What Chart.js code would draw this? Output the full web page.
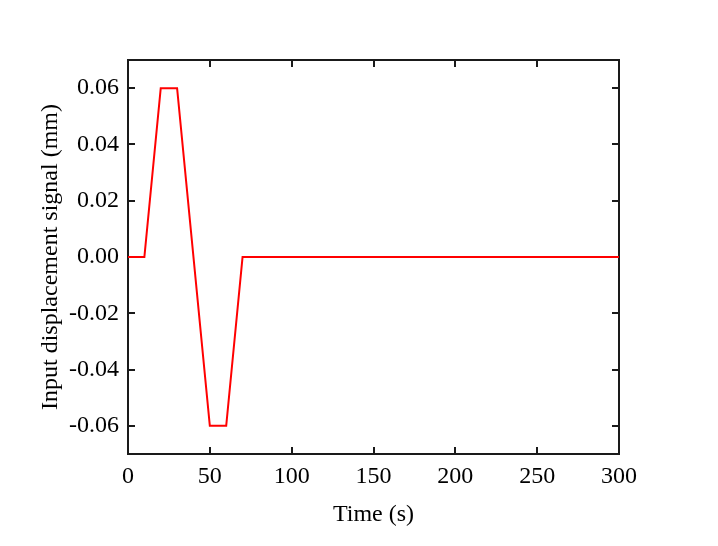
<!DOCTYPE html>
<html>
<head>
<meta charset="utf-8">
<script src="https://cdn.jsdelivr.net/npm/chart.js@4"></script>
<style>
  html, body { margin: 0; padding: 0; background: #fff; }
  #wrap { width: 718px; height: 546px; }
</style>
</head>
<body>
<div id="wrap"><canvas id="signalChart" width="718" height="546"></canvas></div>
<script>
// input displacement signal
const timeValues = [0, 10, 20, 30, 50, 60, 70, 300];
const displacementValues = [0, 0, 0.06, 0.06, -0.06, -0.06, 0, 0];
const xTickValues = [0, 50, 100, 150, 200, 250, 300];
const yTickValues = [-0.06, -0.04, -0.02, 0.00, 0.02, 0.04, 0.06];

const points = timeValues.map(function (t, i) { return { x: t, y: displacementValues[i] }; });

// box round the plot area, with inward ticks on all four sides (drawn under the line)
const frame = {
     id: 'frame',
     beforeDatasetsDraw: function (chart) {
          const ctx = chart.ctx;
          const a = chart.chartArea;
          const xs = chart.scales.x, ys = chart.scales.y;
          const len = 7;
          ctx.save();
          ctx.strokeStyle = '#1a1a1a';
          ctx.lineWidth = 2;
          ctx.strokeRect(a.left, a.top, a.right - a.left, a.bottom - a.top);
          ctx.beginPath();
          xTickValues.forEach(function (v) {
               const px = Math.round(xs.getPixelForValue(v));
               if (px <= a.left + 1 || px >= a.right - 1) return;
               ctx.moveTo(px, a.bottom); ctx.lineTo(px, a.bottom - len);
               ctx.moveTo(px, a.top); ctx.lineTo(px, a.top + len);
          });
          yTickValues.forEach(function (v) {
               const py = Math.round(ys.getPixelForValue(v));
               ctx.moveTo(a.left, py); ctx.lineTo(a.left + len, py);
               ctx.moveTo(a.right, py); ctx.lineTo(a.right - len, py);
          });
          ctx.stroke();
          ctx.restore();
     }
};

const bg = {
     id: 'bg',
     beforeDraw: function (chart) {
          const ctx = chart.ctx;
          ctx.save();
          ctx.fillStyle = '#fff';
          ctx.fillRect(0, 0, chart.width, chart.height);
          ctx.restore();
     }
};

const font = { family: '"Liberation Serif", "Times New Roman", serif', size: 24 };

new Chart(document.getElementById('signalChart').getContext('2d'), {
     type: 'line',
     data: {
          datasets: [{
               label: 'Input displacement signal',
               data: points,
               borderColor: '#ff0000',
               borderWidth: 2,
               pointRadius: 0,
               tension: 0,
               fill: false,
               clip: 2
          }]
     },
     options: {
          responsive: false,
          animation: false,
          layout: { padding: { top: 60, right: 99, left: 0, bottom: 0 } },
          plugins: {
               legend: { display: false },
               tooltip: { enabled: false }
          },
          scales: {
               x: {
                    type: 'linear',
                    min: 0,
                    max: 300,
                    afterBuildTicks: function (s) { s.ticks = xTickValues.map(function (v) { return { value: v }; }); },
                    afterFit: function (s) { s.height = 92; },
                    grid: { display: false, drawTicks: false },
                    border: { display: false },
                    ticks: { color: '#000', font: font, padding: 8, maxRotation: 0 },
                    title: { display: true, text: 'Time (s)', color: '#000', font: font, padding: { top: 0, bottom: 17 } }
               },
               y: {
                    type: 'linear',
                    min: -0.07,
                    max: 0.07,
                    afterBuildTicks: function (s) { s.ticks = yTickValues.map(function (v) { return { value: v }; }); },
                    afterFit: function (s) { s.width = 128; },
                    grid: { display: false, drawTicks: false },
                    border: { display: false },
                    ticks: {
                         color: '#000', font: font, padding: 9,
                         callback: function (v) { return Number(v).toFixed(2); }
                    },
                    title: { display: true, text: 'Input displacement signal (mm)', color: '#000', font: font, padding: { top: 36, bottom: 0 } }
               }
          }
     },
     plugins: [bg, frame]
});
</script>
</body>
</html>
